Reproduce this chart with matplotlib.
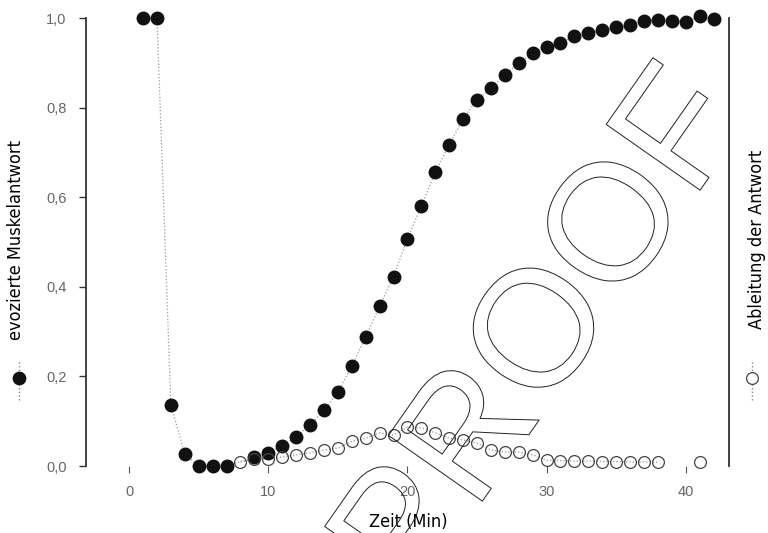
import matplotlib
matplotlib.use("Agg")
import matplotlib.pyplot as plt
import matplotlib.patheffects as pe
from matplotlib.lines import Line2D

# evozierte Muskelantwort (normiert), pro Minute
resp_t = [1, 2, 3, 4, 5, 6, 7, 9, 10, 11, 12, 13, 14, 15, 16, 17, 18, 19, 20,
          21, 22, 23, 24, 25, 26, 27, 28, 29, 30, 31, 32, 33, 34, 35, 36, 37,
          38, 39, 40, 41, 42]
resp = [1.0, 1.0, 0.136, 0.027, 0.0, 0.0, 0.0, 0.02, 0.029, 0.045, 0.065,
        0.092, 0.125, 0.165, 0.223, 0.288, 0.357, 0.422, 0.507, 0.58, 0.656,
        0.717, 0.775, 0.817, 0.844, 0.873, 0.90, 0.922, 0.935, 0.944, 0.96,
        0.967, 0.973, 0.98, 0.984, 0.993, 0.996, 0.993, 0.991, 1.004, 0.998]

# Ableitung der Antwort
deriv_t = list(range(8, 39)) + [41]
deriv = [0.009, 0.015, 0.016, 0.020, 0.025, 0.029, 0.036, 0.040, 0.055,
         0.062, 0.074, 0.069, 0.087, 0.085, 0.074, 0.062, 0.058, 0.051,
         0.036, 0.031, 0.031, 0.025, 0.013, 0.012, 0.011, 0.011, 0.010,
         0.010, 0.009, 0.009, 0.008, 0.009]

x_ticks = [0, 10, 20, 30, 40]
y_ticks = [0.0, 0.2, 0.4, 0.6, 0.8, 1.0]
y_ticklabels = ["0,0", "0,2", "0,4", "0,6", "0,8", "1,0"]

label_font = dict(family=["DejaVu Sans"], fontstretch="condensed",
                  fontsize=13)
tick_font = ["Liberation Sans", "DejaVu Sans"]

fig = plt.figure(figsize=(7.68, 5.33), dpi=100)
ax = fig.add_axes([0.112, 0.1257, 0.837, 0.8405])

ax.plot(resp_t, resp, ls=":", lw=0.9, color="#999999", zorder=2, clip_on=False)
ax.plot(resp_t, resp, ls="none", marker="o", ms=9, color="#111111",
        zorder=3, clip_on=False)
ax.plot(deriv_t[:-1], deriv[:-1], ls=":", lw=0.9, color="#999999", zorder=2)
ax.plot(deriv_t, deriv, ls="none", marker="o", ms=8.5, mfc="none",
        mec="#444444", mew=0.9, zorder=4, clip_on=False)

ax.set_xlim(-3.1, 43.1)
ax.set_ylim(0, 1)
ax.spines["top"].set_visible(False)
ax.spines["bottom"].set_visible(False)
for side in ("left", "right"):
    ax.spines[side].set_linewidth(1.3)
    ax.spines[side].set_color("#333333")

ax.set_xticks(x_ticks)
ax.set_xticklabels([str(v) for v in x_ticks], family=tick_font,
                   fontsize=10.5, color="#666666")
ax.set_yticks(y_ticks)
ax.set_yticklabels(y_ticklabels, family=tick_font, fontsize=10.5,
                   color="#666666")
ax.tick_params(axis="x", length=5, width=0.8, color="#555555", pad=9)
ax.tick_params(axis="y", length=5, width=1.0, color="#333333", pad=9)

fig.text(0.531, 0.021, "Zeit (Min)", ha="center", va="center", **label_font)
fig.text(0.021, 0.55, "evozierte Muskelantwort", rotation=90, ha="center",
         va="center", **label_font)
fig.text(0.986, 0.55, "Ableitung der Antwort", rotation=90, ha="center",
         va="center", **label_font)

# Legendensymbole neben den Achsentiteln
for fx, filled in ((19 / 768, True), (752 / 768, False)):
    fig.add_artist(Line2D([fx, fx], [0.25, 0.325], transform=fig.transFigure,
                          ls=":", lw=1.0, color="#888888"))
    fig.add_artist(Line2D([fx], [0.291], transform=fig.transFigure,
                          marker="o", ms=9 if filled else 8.5,
                          mfc="#111111" if filled else "white",
                          mec="#111111" if filled else "#444444",
                          mew=0.9, ls="none"))

# Wasserzeichen als Umriss
fig.text(0.756, 0.323, "PROOF", rotation=55, rotation_mode="anchor",
         ha="center", va="baseline", fontsize=120,
         family=["Liberation Sans", "DejaVu Sans"], color="none", zorder=10,
         path_effects=[pe.Stroke(linewidth=0.7, foreground="#222222")])

fig.savefig("out.png", dpi=100)
